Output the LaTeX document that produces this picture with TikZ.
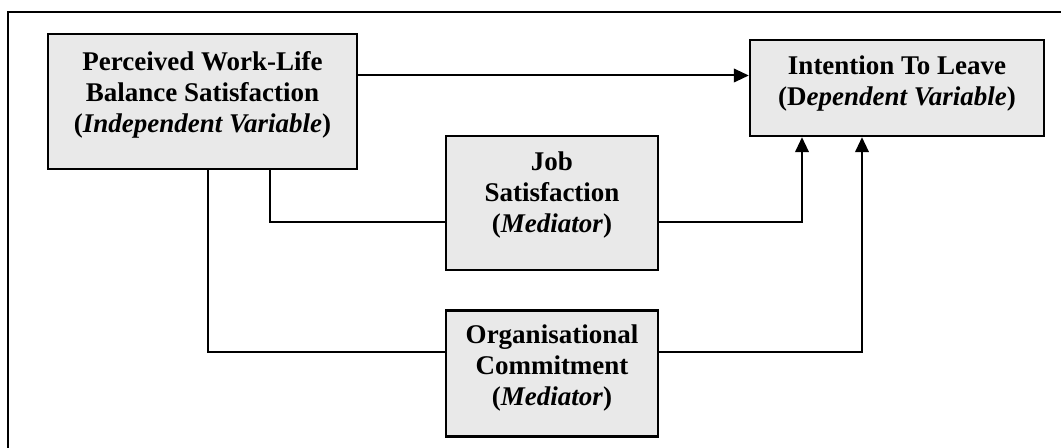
\documentclass[tikz,border=0pt]{standalone}
\usepackage{fontspec}
\setmainfont{Liberation Serif}
\usetikzlibrary{positioning,arrows.meta}
\definecolor{boxgray}{RGB}{233,233,233}
% text lifted a little inside its box, box size unchanged
\newcommand{\lifted}[2]{\raisebox{#1}[\height][\depth]{\begin{tabular}{@{}c@{}}#2\end{tabular}}}
\tikzset{
  varbox/.style={draw, line width=1.2pt, fill=boxgray, inner sep=0pt,
    font=\fontsize{13.5}{15.5}\selectfont\bfseries},
  link/.style={line width=1pt},
  arr/.style={link, -{Triangle[length=7.5pt,width=6.8pt]}}
}
\begin{document}
\begin{tikzpicture}[x=0.5pt, y=-0.5pt]
  \useasboundingbox (0,0) rectangle (1061,448);
  \clip (0,0) rectangle (1061,448);
  % Frame
  \draw[line width=1pt] (8,12) rectangle (1200,600);
  % Define nodes
  \node[varbox, minimum width=154.5pt, minimum height=67.5pt] (iv) at (202.5,101.5)
    {\lifted{3.2pt}{Perceived Work-Life\\Balance Satisfaction\\(\textit{Independent Variable})}};
  \node[varbox, minimum width=147pt, minimum height=48pt] (dv) at (897,88)
    {\lifted{2pt}{Intention To Leave\\(D\textit{ependent Variable})}};
  \node[varbox, minimum width=106pt, minimum height=67pt] (js) at (552,203)
    {\lifted{4pt}{Job\\Satisfaction\\(\textit{Mediator})}};
  \node[varbox, minimum width=106pt, minimum height=63pt, below=19pt of js] (oc)
    {\lifted{2.5pt}{Organisational\\Commitment\\(\textit{Mediator})}};
  % Bend points
  \coordinate (top)   at (0,75.5);
  \coordinate (jsin)  at (270,222);
  \coordinate (jsout) at (802,222);
  \coordinate (ocin)  at (208,352);
  \coordinate (ocout) at (862,352);
  % Connect nodes
  \draw[arr] (iv.east |- top) -- (dv.west |- top);
  \draw[link] (iv.south -| jsin) |- (js.west |- jsin);
  \draw[arr] (js.east |- jsout) -| (dv.south -| jsout);
  \draw[link] (iv.south -| ocin) |- (oc.west |- ocin);
  \draw[arr] (oc.east |- ocout) -| (dv.south -| ocout);
\end{tikzpicture}
\end{document}
